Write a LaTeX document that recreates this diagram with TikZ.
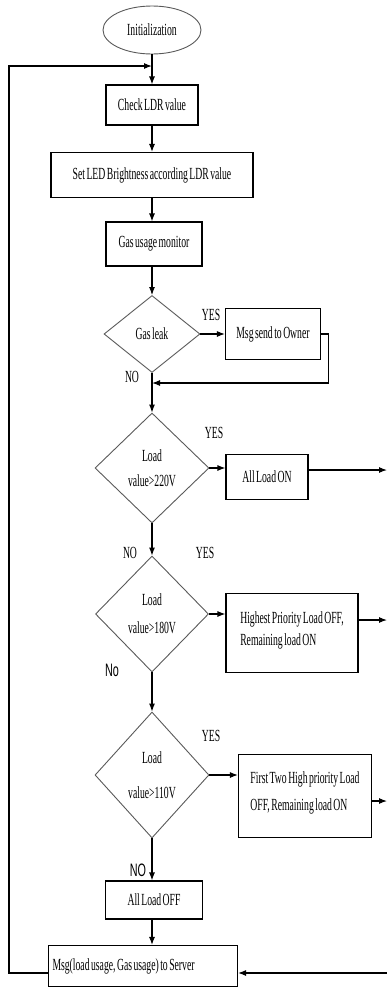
\documentclass[tikz,border=0pt]{standalone}
\usepackage{fontspec}
\setmainfont{Liberation Serif}[FakeStretch=0.57,WordSpace=0.6]
\newfontfamily\answersans{Liberation Sans}[FakeStretch=0.6]
\usetikzlibrary{shapes.geometric,arrows.meta}

\begin{document}
\begin{tikzpicture}[x=1pt,y=-1pt,
    font=\fontsize{17}{20}\selectfont,
    terminal/.style ={ellipse, draw=black!65, line width=0.9pt, inner sep=0pt},
    process/.style ={rectangle, draw, line width=1.1pt, inner sep=0pt},
    decision/.style ={diamond, draw=black!65, line width=0.9pt, inner sep=0pt, align=center},
    answer/.style ={inner sep=0pt},
    flow/.style ={draw, line width=1.1pt, -{Latex[length=8pt,width=6pt]}}]
   \useasboundingbox (0,0) rectangle (387,989);

   \node[terminal, minimum width=98pt, minimum height=48pt] (init) at (152,30) {Initialization};
   \node[process, minimum width=92pt, minimum height=40pt] (check) at (152,105) {Check LDR value};
   \node[process, minimum width=202pt, minimum height=45pt] (setled) at (152,175) {Set LED Brightness according LDR value};
   \node[process, minimum width=96pt, minimum height=44pt] (gasmon) at (154,244) {Gas usage monitor};
   \node[decision, minimum width=96pt, minimum height=77pt] (gasleak) at (152,334) {Gas leak};
   \node[process, minimum width=95pt, minimum height=51pt] (owner) at (273,334) {Msg send to Owner};
   \node[decision, minimum width=114pt, minimum height=110pt] (load1) at (152,468) {Load\\[5pt]value>220V};
   \node[process, minimum width=82pt, minimum height=45pt] (allon) at (267,477) {All Load ON};
   \node[decision, minimum width=113pt, minimum height=116pt] (load2) at (152,614) {Load\\[8pt]value>180V};
   \node[process, align=left, minimum width=132pt, text height=52pt, text depth=27pt] (highest) at (292,633) {Highest Priority Load OFF,\\[2pt]Remaining load ON};
   \node[decision, minimum width=114pt, minimum height=126pt] (load3) at (152,775) {Load\\[15pt]value>110V};
   \node[process, align=left, minimum width=133pt, text height=56pt, text depth=27pt] (two) at (305,796) {First Two High priority Load\\[7pt]OFF, Remaining load ON};
   \node[process, minimum width=97pt, minimum height=38pt] (alloff) at (154,900) {All Load OFF};
   \node[process, inner xsep=4pt, minimum height=41pt] (server) at (143,966) {\makebox[181pt][l]{Msg(load usage, Gas usage) to Server}};

   \node[answer] (yes1) at (211,315) {YES};
   \node[answer] (no1) at (132,377) {NO};
   \node[answer] (yes2) at (214,433) {YES};
   \node[answer] (no2) at (130,553) {NO};
   \node[answer] (yes3) at (205,553) {YES};
   \node[answer, font={\answersans\fontsize{18}{20}\selectfont}] (no3) at (112,670) {No};
   \node[answer] (yes4) at (211,736) {YES};
   \node[answer, font={\answersans\fontsize{18}{20}\selectfont}] (no4) at (138,870) {NO};

   \coordinate (loopin) at (152,66);
   \coordinate (merge) at (152,383);
   \coordinate (rim1) at (387,470);
   \coordinate (rim2) at (387,620);
   \coordinate (rim3) at (387,801);
   \coordinate (rim4) at (387,973);

   \draw[flow] (init) -- (check);
   \draw[flow] (check) -- (setled);
   \draw[flow] (setled) -- (setled.south |- gasmon.north);
   \draw[flow] (gasmon.south -| gasleak) -- (gasleak);
   \draw[flow] (gasleak) -- (owner);
   \draw[flow] (owner.east) -- ++(7,0) |- (merge);
   \draw[flow] (gasleak) -- (load1);
   \draw[flow] (load1.east) -- (load1.east -| allon.west);
   \draw[flow] (allon.east |- rim1) -- (rim1);
   \draw[flow] (load1) -- (load2);
   \draw[flow] (load2.east) -- (load2.east -| highest.west);
   \draw[flow] (highest.east |- rim2) -- (rim2);
   \draw[flow] (load2) -- (load3);
   \draw[flow] (load3.east) -- (load3.east -| two.west);
   \draw[flow] (two.east |- rim3) -- (rim3);
   \draw[flow] (load3) -- (load3 |- alloff.north);
   \draw[flow] (load3 |- alloff.south) -- (load3 |- server.north);
   \draw[flow] (rim4) -- (server.east |- rim4);
   \draw[flow] (server.west |- rim4) -- ++(-39,0) |- (loopin);
\end{tikzpicture}
\end{document}
